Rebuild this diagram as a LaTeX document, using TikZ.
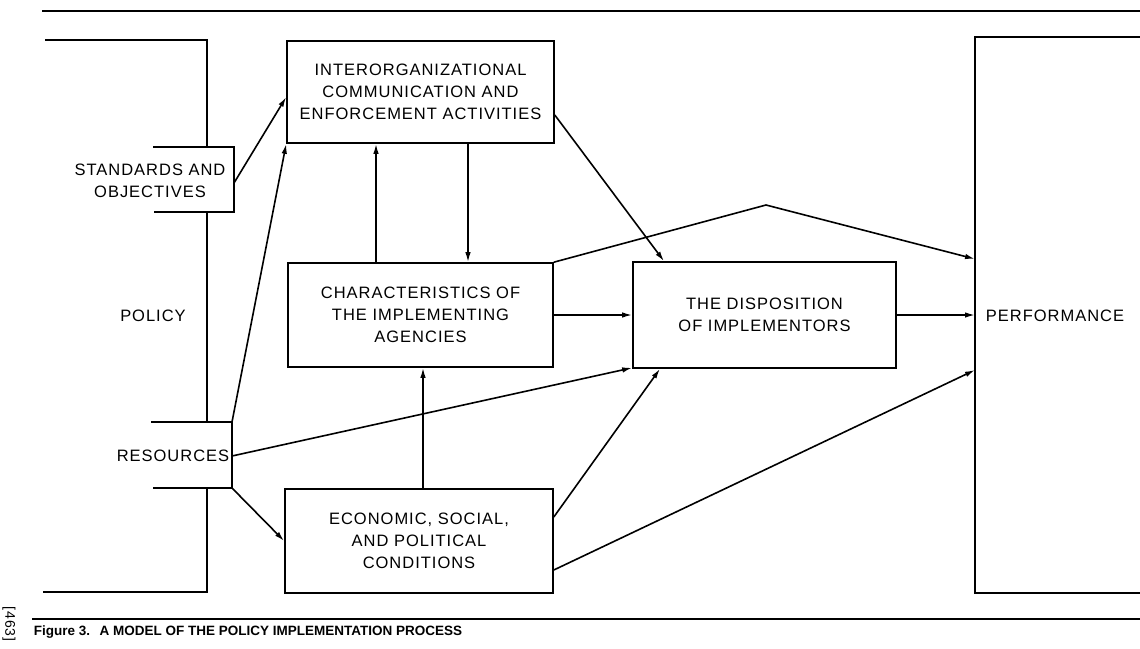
\documentclass[tikz,border=0pt]{standalone}
\usepackage{fontspec}
\setmainfont{Liberation Sans}
\newfontfamily\figfont{Liberation Sans}[LetterSpace=6]
\usetikzlibrary{arrows.meta}

\begin{document}
\begin{tikzpicture}[x=1pt, y=-1pt, line width=1.6pt,
                    every node/.style={font=\figfont\fontsize{16.5}{22}\selectfont, align=center, inner sep=0pt},
                    every edge/.style={draw, line width=1.6pt},
                    box/.style={draw, rectangle},
                    >={Latex[length=10pt,width=5.5pt]}]

\useasboundingbox (0,0) rectangle (1140,648);

\draw (42,11) -- (1140,11);
\draw (32,619) -- (1140,619);

\node[box, minimum width=267pt, minimum height=102pt] (inter) at (420.5,92) {INTERORGANIZATIONAL\\COMMUNICATION AND\\ENFORCEMENT ACTIVITIES};
\node[box, minimum width=265pt, minimum height=104pt] (chars) at (420.5,315) {CHARACTERISTICS OF\\THE IMPLEMENTING\\AGENCIES};
\node[box, minimum width=263pt, minimum height=106pt] (disp) at (764.5,315) {THE DISPOSITION\\OF IMPLEMENTORS};
\node[box, minimum width=268pt, minimum height=104pt] (econ) at (419,541) {ECONOMIC, SOCIAL,\\AND POLITICAL\\CONDITIONS};

\draw (45,40) -- (207,40) -- (207,147);
\draw (207,212) -- (207,422);
\draw (207,488) -- (207,592) -- (43,592);
\node (policy) at (153,316) {POLICY};

\draw (153,147) -- (234,147) -- (234,212) -- (154,212);
\node (std) at (150,181) {STANDARDS AND\\OBJECTIVES};

\draw (151,422) -- (232,422) -- (232,488) -- (153,488);
\node (res) at (173,456) {RESOURCES};

\draw (1140,37) -- (975,37) -- (975,593) -- (1140,593);
\node (perf) at (1055,316) {PERFORMANCE};

\coordinate (std-e) at (234,183);
\coordinate (res-ne) at (232,422);
\coordinate (res-e) at (232,456);
\coordinate (res-se) at (232,488);
\coordinate (perf-w) at (975,315);
\coordinate (peak) at (766,205);

\path[->]
(std-e) edge ([yshift=-5pt]inter.west)
(res-ne) edge (inter.south west)
(res-e) edge ([yshift=1pt]disp.south west)
(res-se) edge (econ.west)
([xshift=-44.5pt]chars.north) edge ([xshift=-44.5pt]inter.south)
([xshift=47.5pt]inter.south) edge ([xshift=47.5pt]chars.north)
([yshift=-23pt]inter.east) edge ([xshift=-100.5pt]disp.north)
(chars.east) edge (disp.west)
(disp.east) edge (perf-w)
([xshift=4pt]econ.north) edge ([xshift=2.5pt]chars.south)
([yshift=24pt]econ.east) edge ([xshift=-104.5pt]disp.south)
([yshift=-29pt]econ.east) edge ([yshift=-55pt]perf-w);
\draw[->] (chars.north east) -- (peak) -- ([yshift=56pt]perf-w);

\node[anchor=west, font=\bfseries\fontsize{13.5}{16}\selectfont] (caption) at (33,632) {Figure 3.\hspace{0.7em}A MODEL OF THE POLICY IMPLEMENTATION PROCESS};
\node[anchor=west, rotate=-90, font=\figfont\fontsize{14}{16}\selectfont] (page) at (9,606) {[463]};
\end{tikzpicture}
\end{document}
